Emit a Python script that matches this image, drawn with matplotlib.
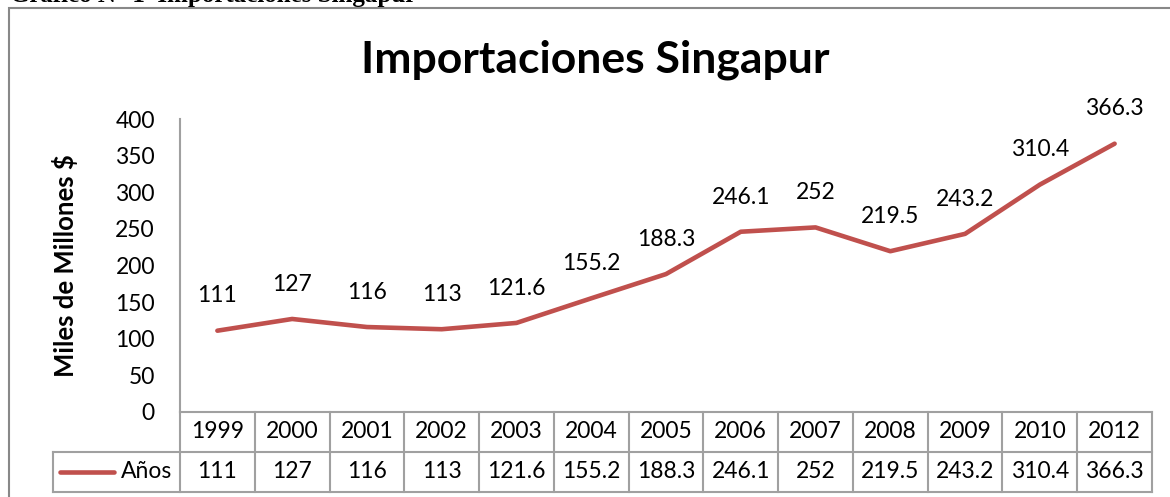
import matplotlib.pyplot as plt
from matplotlib.patches import Rectangle
from matplotlib.lines import Line2D

years = ["1999", "2000", "2001", "2002", "2003", "2004", "2005",
         "2006", "2007", "2008", "2009", "2010", "2012"]
values = [111, 127, 116, 113, 121.6, 155.2, 188.3, 246.1, 252, 219.5, 243.2, 310.4, 366.3]
value_labels = ["111", "127", "116", "113", "121.6", "155.2", "188.3",
                "246.1", "252", "219.5", "243.2", "310.4", "366.3"]
series_name = "Años"
y_ticks = [0, 50, 100, 150, 200, 250, 300, 350, 400]

plt.rcParams['font.family'] = ['Lato', 'DejaVu Sans']
line_color = "#C0504D"
grid_color = "#A0A0A0"
fs = 16.5

W, H = 1170, 497
fig = plt.figure(figsize=(W / 100, H / 100), dpi=100)
ax = fig.add_axes([180 / W, (H - 412) / H, (1152 - 180) / W, (412 - 119) / H])

x = list(range(len(years)))
ax.plot(x, values, color=line_color, lw=3.3, solid_capstyle='round', zorder=3)
for xi, v, lab in zip(x, values, value_labels):
    ax.annotate(lab, (xi, v), xytext=(0, 25), textcoords='offset points',
                ha='center', va='center', fontsize=fs)

ax.set_xlim(-0.5, len(years) - 0.5)
ax.set_ylim(0, 400)
ax.set_yticks(y_ticks)
ax.set_yticklabels([str(t) for t in y_ticks], fontsize=fs)
ax.tick_params(axis='y', length=0, pad=18)
ax.set_xticks([])
for s in ['top', 'right', 'bottom']:
    ax.spines[s].set_visible(False)
ax.spines['left'].set_color(grid_color)
ax.spines['left'].set_linewidth(1.5)
ax.set_ylabel("Miles de Millones $", fontsize=18.5, fontweight='bold', labelpad=27)

# data table below the axes
row_h = 40 / 293
tr = ax.get_xaxis_transform()
n = len(years)
legend_left = -0.5 - (180 - 53) / ((1152 - 180) / n)
kw = dict(transform=tr, clip_on=False, color=grid_color, lw=1.5)
ax.add_line(Line2D([-0.5, n - 0.5], [0, 0], **kw))
ax.add_line(Line2D([legend_left, n - 0.5], [-row_h, -row_h], **kw))
ax.add_line(Line2D([legend_left, n - 0.5], [-2 * row_h, -2 * row_h], **kw))
ax.add_line(Line2D([legend_left, legend_left], [-row_h, -2 * row_h], **kw))
for i in range(n + 1):
    ax.add_line(Line2D([i - 0.5, i - 0.5], [0, -2 * row_h], **kw))
for i in range(n):
    ax.text(i, -row_h / 2, years[i], transform=tr, ha='center', va='center', fontsize=fs)
    ax.text(i, -1.5 * row_h, value_labels[i], transform=tr, ha='center', va='center', fontsize=fs)
ax.add_line(Line2D([legend_left + 0.1, legend_left + 0.82], [-1.5 * row_h] * 2,
                   transform=tr, clip_on=False, color=line_color, lw=3.3,
                   solid_capstyle='round'))
ax.text(-0.61, -1.5 * row_h, series_name, transform=tr, ha='right', va='center', fontsize=fs)

fig.text(595 / W, 1 - 60 / H, "Importaciones Singapur", ha='center', va='center',
         fontsize=32, fontweight='bold')

# outer chart frame
fig.add_artist(Rectangle((8.5 / W, -0.1), 1.2, 1 - 7.5 / H + 0.1, transform=fig.transFigure,
                         fill=False, edgecolor="#888888", lw=1.5))

# caption of the page, cut at the top edge
fig.text(10 / W, 1 - 2 / H, "Gráfico N° 1  Importaciones Singapur", ha='left', va='baseline',
         fontsize=18, fontweight='bold', family='Liberation Serif')

fig.savefig("out.png", dpi=100)
